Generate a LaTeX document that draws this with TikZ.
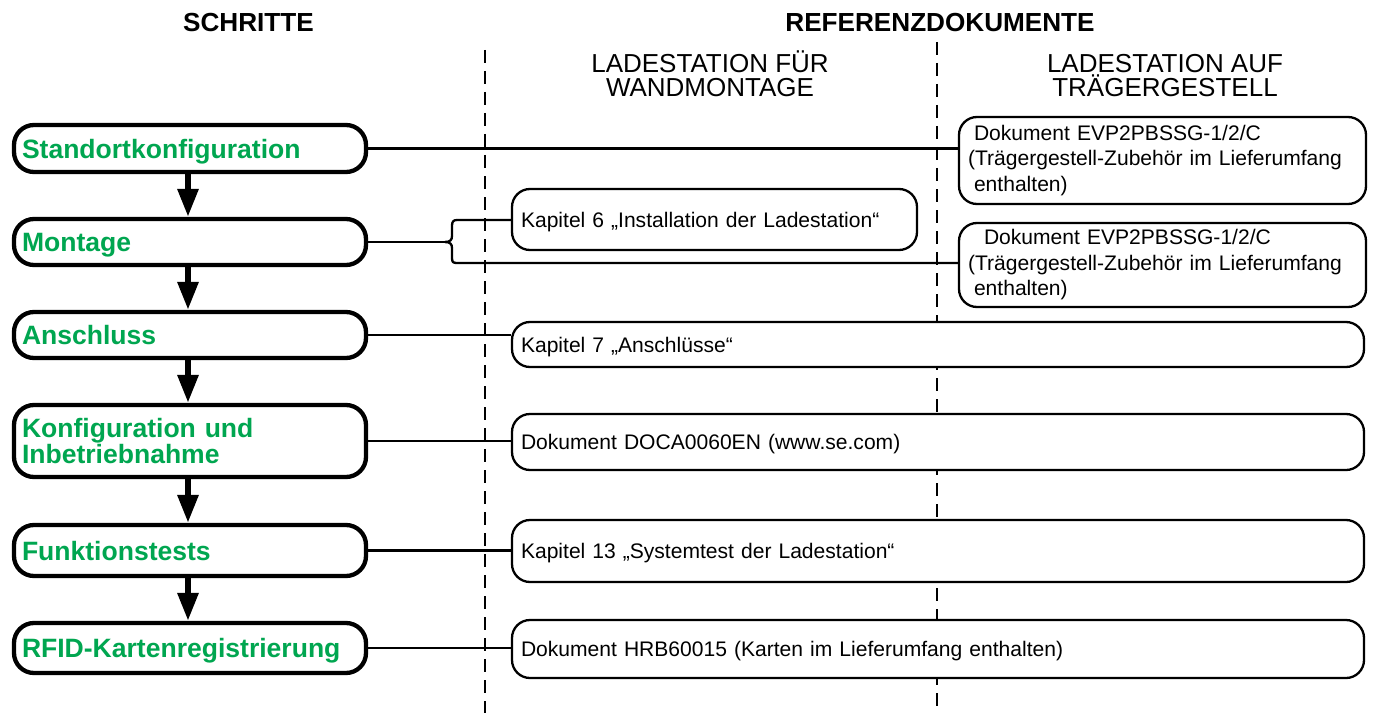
\documentclass[tikz,border=0pt]{standalone}
\usepackage{fontspec}
\setmainfont{Liberation Sans}
\usetikzlibrary{arrows.meta}
\newdimen\pxu \pxu=0.75pt
\definecolor{stepgreen}{RGB}{0,166,80}
\begin{document}
\begin{tikzpicture}[x=0.75pt,y=-0.75pt,
 stepbox/.style={draw, line width=4.3\pxu, rounded corners=20\pxu, fill=white,
   minimum width=352\pxu, text width=336\pxu, inner xsep=8\pxu, inner ysep=0pt,
   align=left, text=stepgreen, font=\fontsize{19.9pt}{19.5pt}\selectfont\bfseries},
 oneline/.style={text height=19.5\pxu, text depth=0pt},
 refbox/.style={draw, line width=2.3\pxu, rounded corners=18\pxu, fill=white,
   inner xsep=9\pxu, inner ysep=0pt, align=left,
   font=\fontsize{15.8pt}{19.1pt}\selectfont},
 refone/.style={text height=15\pxu, text depth=0pt},
 conn/.style={line width=2.3\pxu},
 flow/.style={line width=4.5pt, -{Triangle[width=15pt,length=21pt]}},
 sepline/.style={line width=2.6\pxu, dash pattern=on 13\pxu off 8\pxu},
 head/.style={font=\fontsize{19.6pt}{18pt}\selectfont\bfseries, anchor=base},
 colhead/.style={font=\fontsize{19.5pt}{18pt}\selectfont, anchor=base}]
\useasboundingbox (0,0) rectangle (1373,713);

% headers
\node[head] (h1) at (248.5,32) {SCHRITTE};
\node[head] (h2) at (940,32) {REFERENZDOKUMENTE};
\node[colhead] (c1a) at (710,73) {LADESTATION FÜR};
\node[colhead] (c1b) at (710,97) {WANDMONTAGE};
\node[colhead] (c2a) at (1165,73) {LADESTATION AUF};
\node[colhead] (c2b) at (1165,97) {TRÄGERGESTELL};

% column separators
\coordinate (d1t) at (485,50);
\coordinate (d1b) at (485,713);
\coordinate (d2t) at (937,42);
\coordinate (d2b) at (937,713);
\draw[sepline] (d1t) -- (d1b);
\draw[sepline] (d2t) -- (d2b);

% steps
\node[stepbox, oneline, minimum height=47\pxu] (s1) at (190,148.5) {Standortkonfiguration};
\node[stepbox, oneline, minimum height=46\pxu] (s2) at (190,242) {Montage};
\node[stepbox, oneline, minimum height=46\pxu] (s3) at (190,335) {Anschluss};
\node[stepbox, minimum height=72\pxu] (s4) at (190,441) {Konfiguration und\\Inbetriebnahme};
\node[stepbox, oneline, minimum height=51\pxu] (s5) at (190,550.5) {Funktionstests};
\node[stepbox, oneline, minimum height=50\pxu] (s6) at (190,648) {RFID-Kartenregistrierung};

% reference boxes
\node[refbox, minimum width=407\pxu, text width=389\pxu, minimum height=87\pxu] (A) at (1162.5,160.5)
  {\hspace*{6\pxu}Dokument EVP2PBSSG-1/2/C\\(Trägergestell-Zubehör im Lieferumfang\\\hspace*{6\pxu}enthalten)};
\node[refbox, minimum width=407\pxu, text width=389\pxu, minimum height=84\pxu] (B) at (1162.5,265)
  {\hspace*{16\pxu}Dokument EVP2PBSSG-1/2/C\\(Trägergestell-Zubehör im Lieferumfang\\\hspace*{6\pxu}enthalten)};
\node[refbox, refone, minimum width=405\pxu, text width=387\pxu, minimum height=61\pxu] (K6) at (714.5,219.5)
  {Kapitel 6 „Installation der Ladestation“};
\node[refbox, refone, minimum width=852\pxu, text width=834\pxu, minimum height=45\pxu] (K7) at (938,344.5)
  {Kapitel 7 „Anschlüsse“};
\node[refbox, refone, minimum width=852\pxu, text width=834\pxu, minimum height=56\pxu] (DO) at (938,442)
  {Dokument DOCA0060EN (www.se.com)};
\node[refbox, refone, minimum width=852\pxu, text width=834\pxu, minimum height=62\pxu] (K13) at (938,551)
  {Kapitel 13 „Systemtest der Ladestation“};
\node[refbox, refone, minimum width=852\pxu, text width=834\pxu, minimum height=58\pxu] (HR) at (938,649)
  {Dokument HRB60015 (Karten im Lieferumfang enthalten)};

% flow arrows
\draw[flow] ([xshift=-1.5pt]s1.south) -- ([xshift=-1.5pt]s2.north);
\draw[flow] ([xshift=-1.5pt]s2.south) -- ([xshift=-1.5pt]s3.north);
\draw[flow] ([xshift=-1.5pt]s3.south) -- ([xshift=-1.5pt]s4.north);
\draw[flow] ([xshift=-1.5pt]s4.south) -- ([xshift=-1.5pt]s5.north);
\draw[flow] ([xshift=-1.5pt]s5.south) -- ([xshift=-1.5pt]s6.north);

% connectors
\draw[conn] (s1.east) -- (s1.east -| A.west);
\coordinate (bm) at (445,242);
\draw[conn] (s2.east) -- (bm);
\draw[conn] (bm) .. controls (450,242) and (452,240) .. (452,236) -- (452,226)
  .. controls (452,222) and (453,220) .. (457,220) -- (K6.west |- 457,220);
\draw[conn] (bm) .. controls (450,242) and (452,244) .. (452,248) -- (452,258)
  .. controls (452,262) and (453,263) .. (457,263) -- (B.west |- 457,263);
\draw[conn] (s3.east) -- (s3.east -| K7.west);
\draw[conn] (s4.east) -- (s4.east -| DO.west);
\draw[conn] (s5.east) -- (s5.east -| K13.west);
\draw[conn] (s6.east) -- (s6.east -| HR.west);
\end{tikzpicture}
\end{document}
